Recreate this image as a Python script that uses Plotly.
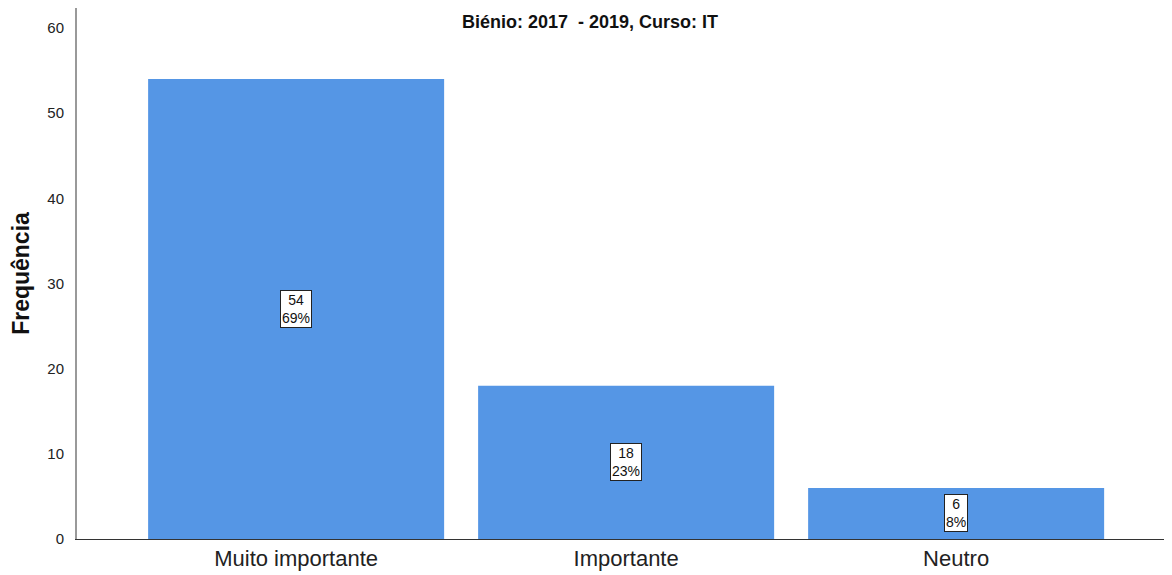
import plotly.graph_objects as go

categorias = ['Muito importante', 'Importante', 'Neutro']
frequencias = [54, 18, 6]
percentagens = [69, 23, 8]

fig = go.Figure(go.Bar(
    x=categorias,
    y=frequencias,
    marker_color='#5596E5',
    marker_line_width=0,
    width=0.897,
    hoverinfo='skip'
))

# caixas de rótulo no meio de cada barra
for cat, f, p in zip(categorias, frequencias, percentagens):
    fig.add_annotation(
        x=cat, y=f / 2, text=f"{f}<br>{p}%", showarrow=False,
        font=dict(family='Liberation Sans, Arial', size=14, color='#111'),
        bgcolor='white', bordercolor='#222', borderwidth=1, borderpad=1
    )

fig.add_annotation(
    x=(590 - 77) / 1091, y=1 - 14 / 531, xref='paper', yref='paper',
    xanchor='center', yanchor='middle',
    text='<b>Biénio: 2017  - 2019, Curso: IT</b>', showarrow=False,
    font=dict(family='Liberation Sans, Arial', size=18, color='#111')
)

fig.update_layout(
    width=1164, height=567,
    margin=dict(l=69, r=4, t=0, b=36),
    plot_bgcolor='white', paper_bgcolor='white',
    showlegend=False,
    font=dict(family='Liberation Sans, Arial', color='#222'),
    xaxis=dict(range=[-0.664, 2.642], showline=True, linecolor='#333', linewidth=1,
               ticks='', showgrid=False, tickfont=dict(size=22, color='#222')),
    yaxis=dict(range=[0, 62.35], showline=True, linecolor='#999', linewidth=2,
               showgrid=False, zeroline=False, tickvals=[0, 10, 20, 30, 40, 50, 60],
               ticks='', tickfont=dict(size=15, color='#222'), ticklabelstandoff=8,
               title=dict(text='<b>Frequência</b>', font=dict(size=23, color='#111'),
                          standoff=14))
)

fig.write_html("out.html")
